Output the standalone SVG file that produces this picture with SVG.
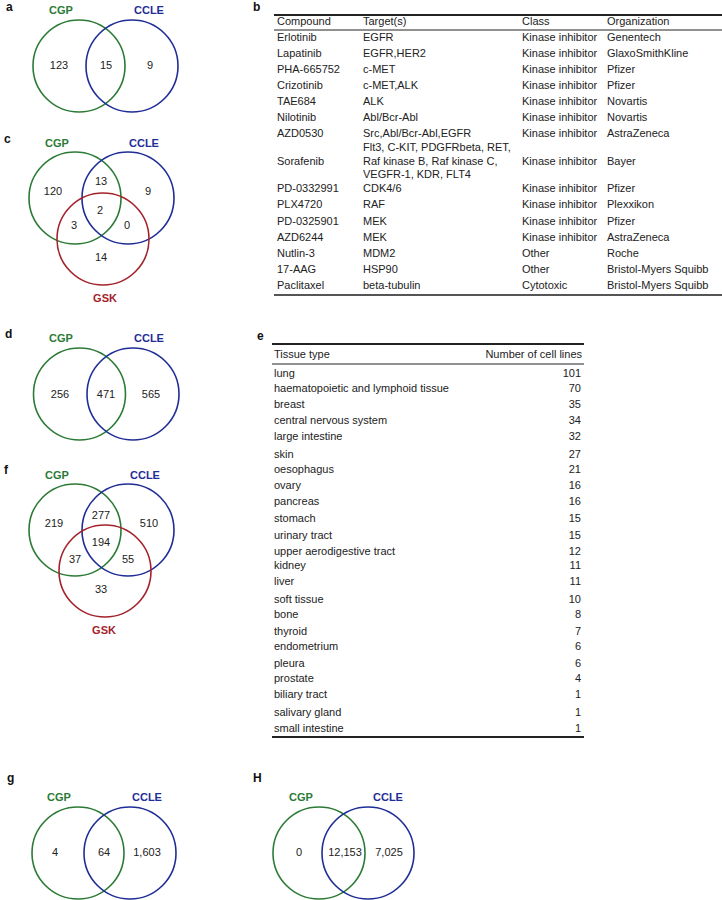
<svg xmlns="http://www.w3.org/2000/svg" width="722" height="900" viewBox="0 0 722 900">
<style>
text{font-family:"Liberation Sans",Arial,sans-serif;font-size:11px;fill:#222}
.pl{font-weight:bold;font-size:12px;fill:#111}
.vl{font-weight:bold;font-size:11px;text-anchor:middle}
.g{fill:#2b7a35}.b{fill:#1f2d96}.r{fill:#a3222b}
.n{text-anchor:middle}
.cg{fill:none;stroke:#2b7a35;stroke-width:1.6}
.cb{fill:none;stroke:#1f2d96;stroke-width:1.6}
.cr{fill:none;stroke:#a3222b;stroke-width:1.6}
.num{text-anchor:end}
.thick{stroke:#222;stroke-width:1.8}
.thin{stroke:#222;stroke-width:1}
</style>
<rect width="722" height="900" fill="#fff"/>

<g id="panel-a">
<text class="pl" x="6" y="11">a</text>
<circle class="cg" cx="79" cy="66" r="46"/>
<circle class="cb" cx="132" cy="66" r="46"/>
<text class="vl g" x="61" y="14">CGP</text>
<text class="vl b" x="149" y="14">CCLE</text>
<text class="n" x="59" y="69">123</text>
<text class="n" x="106" y="69">15</text>
<text class="n" x="150" y="69">9</text>
</g>

<g id="panel-b">
<text class="pl" x="253" y="11">b</text>
<line class="thick" x1="274" y1="15" x2="722" y2="15"/>
<line class="thin" x1="274" y1="30" x2="722" y2="30"/>
<line class="thick" x1="274" y1="295" x2="722" y2="295" style="stroke:#555"/>
<g>
<text x="277" y="25">Compound</text><text x="363" y="25">Target(s)</text><text x="522" y="25">Class</text><text x="607" y="25">Organization</text>
<text x="277" y="41">Erlotinib</text><text x="363" y="41">EGFR</text><text x="522" y="41">Kinase inhibitor</text><text x="607" y="41">Genentech</text>
<text x="277" y="57">Lapatinib</text><text x="363" y="57">EGFR,HER2</text><text x="522" y="57">Kinase inhibitor</text><text x="607" y="57">GlaxoSmithKline</text>
<text x="277" y="73">PHA-665752</text><text x="363" y="73">c-MET</text><text x="522" y="73">Kinase inhibitor</text><text x="607" y="73">Pfizer</text>
<text x="277" y="89">Crizotinib</text><text x="363" y="89">c-MET,ALK</text><text x="522" y="89">Kinase inhibitor</text><text x="607" y="89">Pfizer</text>
<text x="277" y="105">TAE684</text><text x="363" y="105">ALK</text><text x="522" y="105">Kinase inhibitor</text><text x="607" y="105">Novartis</text>
<text x="277" y="121">Nilotinib</text><text x="363" y="121">Abl/Bcr-Abl</text><text x="522" y="121">Kinase inhibitor</text><text x="607" y="121">Novartis</text>
<text x="277" y="137">AZD0530</text><text x="363" y="137">Src,Abl/Bcr-Abl,EGFR</text><text x="522" y="137">Kinase inhibitor</text><text x="607" y="137">AstraZeneca</text>
<text x="363" y="151">Flt3, C-KIT, PDGFRbeta, RET,</text>
<text x="277" y="165">Sorafenib</text><text x="363" y="165">Raf kinase B, Raf kinase C,</text><text x="522" y="165">Kinase inhibitor</text><text x="607" y="165">Bayer</text>
<text x="363" y="178">VEGFR-1, KDR, FLT4</text>
<text x="277" y="192">PD-0332991</text><text x="363" y="192">CDK4/6</text><text x="522" y="192">Kinase inhibitor</text><text x="607" y="192">Pfizer</text>
<text x="277" y="208">PLX4720</text><text x="363" y="208">RAF</text><text x="522" y="208">Kinase inhibitor</text><text x="607" y="208">Plexxikon</text>
<text x="277" y="225">PD-0325901</text><text x="363" y="225">MEK</text><text x="522" y="225">Kinase inhibitor</text><text x="607" y="225">Pfizer</text>
<text x="277" y="241">AZD6244</text><text x="363" y="241">MEK</text><text x="522" y="241">Kinase inhibitor</text><text x="607" y="241">AstraZeneca</text>
<text x="277" y="257">Nutlin-3</text><text x="363" y="257">MDM2</text><text x="522" y="257">Other</text><text x="607" y="257">Roche</text>
<text x="277" y="273">17-AAG</text><text x="363" y="273">HSP90</text><text x="522" y="273">Other</text><text x="607" y="273">Bristol-Myers Squibb</text>
<text x="277" y="289">Paclitaxel</text><text x="363" y="289">beta-tubulin</text><text x="522" y="289">Cytotoxic</text><text x="607" y="289">Bristol-Myers Squibb</text>
</g>
</g>

<g id="panel-c">
<text class="pl" x="4" y="143">c</text>
<circle class="cg" cx="75" cy="198" r="46"/>
<circle class="cb" cx="128" cy="198" r="46"/>
<circle class="cr" cx="103" cy="239" r="46"/>
<text class="vl g" x="57" y="147">CGP</text>
<text class="vl b" x="144" y="147">CCLE</text>
<text class="vl r" x="105" y="302">GSK</text>
<text class="n" x="53" y="195">120</text>
<text class="n" x="101" y="185">13</text>
<text class="n" x="148" y="195">9</text>
<text class="n" x="100" y="214">2</text>
<text class="n" x="74" y="229">3</text>
<text class="n" x="127" y="229">0</text>
<text class="n" x="101" y="261">14</text>
</g>

<g id="panel-d">
<text class="pl" x="5" y="338">d</text>
<circle class="cg" cx="79.5" cy="394" r="46"/>
<circle class="cb" cx="133" cy="394" r="46"/>
<text class="vl g" x="61" y="342">CGP</text>
<text class="vl b" x="149" y="342">CCLE</text>
<text class="n" x="60" y="398">256</text>
<text class="n" x="106" y="398">471</text>
<text class="n" x="151" y="398">565</text>
</g>

<g id="panel-e">
<text class="pl" x="257" y="340">e</text>
<line class="thick" x1="272" y1="344" x2="584" y2="344"/>
<line class="thin" x1="272" y1="364" x2="584" y2="364"/>
<line class="thick" x1="272" y1="737" x2="584" y2="737"/>
<text x="274" y="358">Tissue type</text><text class="num" x="582" y="358">Number of cell lines</text>
<text x="274" y="377">lung</text><text class="num" x="581" y="377">101</text>
<text x="274" y="392">haematopoietic and lymphoid tissue</text><text class="num" x="581" y="392">70</text>
<text x="274" y="408">breast</text><text class="num" x="581" y="408">35</text>
<text x="274" y="424">central nervous system</text><text class="num" x="581" y="424">34</text>
<text x="274" y="440">large intestine</text><text class="num" x="581" y="440">32</text>
<text x="274" y="458">skin</text><text class="num" x="581" y="458">27</text>
<text x="274" y="473">oesophagus</text><text class="num" x="581" y="473">21</text>
<text x="274" y="489">ovary</text><text class="num" x="581" y="489">16</text>
<text x="274" y="505">pancreas</text><text class="num" x="581" y="505">16</text>
<text x="274" y="522">stomach</text><text class="num" x="581" y="522">15</text>
<text x="274" y="539">urinary tract</text><text class="num" x="581" y="539">15</text>
<text x="274" y="555">upper aerodigestive tract</text><text class="num" x="581" y="555">12</text>
<text x="274" y="569">kidney</text><text class="num" x="581" y="569">11</text>
<text x="274" y="585">liver</text><text class="num" x="581" y="585">11</text>
<text x="274" y="603">soft tissue</text><text class="num" x="581" y="603">10</text>
<text x="274" y="618">bone</text><text class="num" x="581" y="618">8</text>
<text x="274" y="635">thyroid</text><text class="num" x="581" y="635">7</text>
<text x="274" y="650">endometrium</text><text class="num" x="581" y="650">6</text>
<text x="274" y="667">pleura</text><text class="num" x="581" y="667">6</text>
<text x="274" y="682">prostate</text><text class="num" x="581" y="682">4</text>
<text x="274" y="698">biliary tract</text><text class="num" x="581" y="698">1</text>
<text x="274" y="716">salivary gland</text><text class="num" x="581" y="716">1</text>
<text x="274" y="732">small intestine</text><text class="num" x="581" y="732">1</text>
</g>

<g id="panel-f">
<text class="pl" x="4" y="474">f</text>
<circle class="cg" cx="75" cy="530" r="46"/>
<circle class="cb" cx="128" cy="530" r="46"/>
<circle class="cr" cx="105" cy="571" r="46"/>
<text class="vl g" x="57" y="479">CGP</text>
<text class="vl b" x="145" y="479">CCLE</text>
<text class="vl r" x="104" y="634">GSK</text>
<text class="n" x="54" y="527">219</text>
<text class="n" x="101" y="519">277</text>
<text class="n" x="149" y="527">510</text>
<text class="n" x="101" y="546">194</text>
<text class="n" x="75" y="563">37</text>
<text class="n" x="128" y="563">55</text>
<text class="n" x="101" y="593">33</text>
</g>

<g id="panel-g">
<text class="pl" x="7" y="782">g</text>
<circle class="cg" cx="78" cy="853" r="46"/>
<circle class="cb" cx="130" cy="853" r="46"/>
<text class="vl g" x="59" y="801">CGP</text>
<text class="vl b" x="147" y="801">CCLE</text>
<text class="n" x="55" y="856">4</text>
<text class="n" x="104" y="856">64</text>
<text class="n" x="147" y="856">1,603</text>
</g>

<g id="panel-h">
<text class="pl" x="253" y="782">H</text>
<circle class="cg" cx="319" cy="853" r="46"/>
<circle class="cb" cx="368" cy="853" r="46"/>
<text class="vl g" x="301" y="801">CGP</text>
<text class="vl b" x="388" y="801">CCLE</text>
<text class="n" x="299" y="856">0</text>
<text class="n" x="345" y="856">12,153</text>
<text class="n" x="389" y="856">7,025</text>
</g>

<g id="connectors"/>
</svg>
